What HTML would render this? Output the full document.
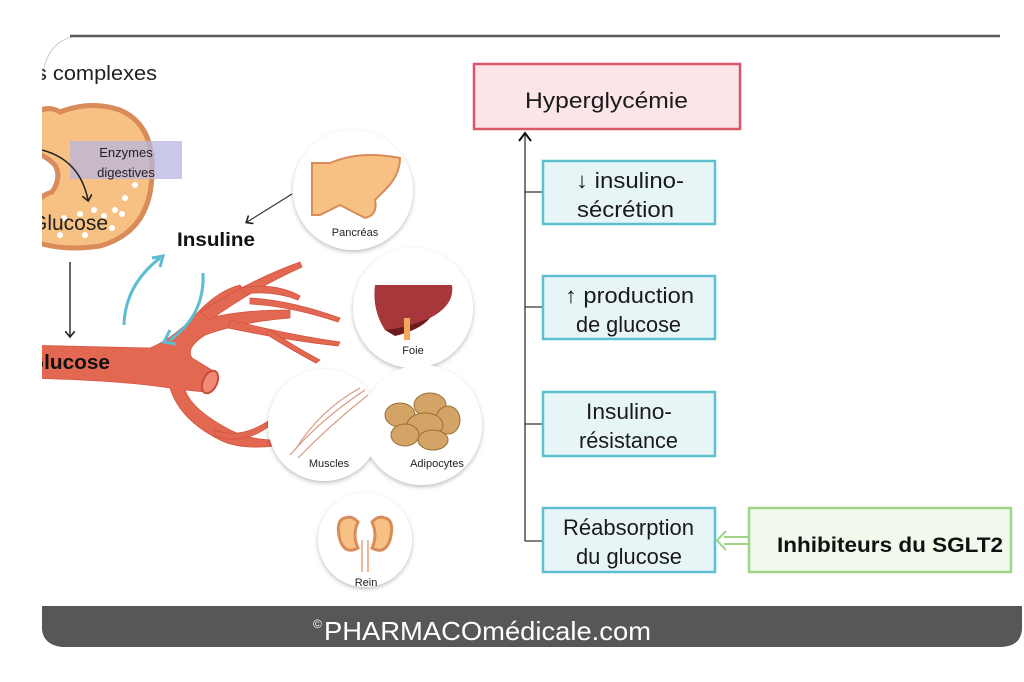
<!DOCTYPE html>
<html><head><meta charset="utf-8"><style>
html,body{margin:0;padding:0;background:#fff;}
svg{display:block;font-family:"Liberation Sans","DejaVu Sans",sans-serif;}
</style></head><body>
<svg width="1024" height="682" viewBox="0 0 1024 682" xmlns="http://www.w3.org/2000/svg">
<defs>
<clipPath id="c"><rect x="42" y="36" width="982" height="620"/></clipPath>
<filter id="sh" x="-20%" y="-20%" width="140%" height="140%"><feDropShadow dx="0" dy="2" stdDeviation="2" flood-color="#000" flood-opacity="0.25"/></filter>
<marker id="ah" markerWidth="10" markerHeight="10" refX="5" refY="5" orient="auto" markerUnits="userSpaceOnUse"><path d="M0,0 L6,5 L0,10" fill="none" stroke="#222" stroke-width="1.6"/></marker>
</defs>
<rect width="1024" height="682" fill="#fff"/>
<path d="M42,80 Q46,38 80,36" fill="none" stroke="#ccc" stroke-width="1"/>
<path d="M70,36 L1000,36" stroke="#5a5a5a" stroke-width="2.5"/>
<g clip-path="url(#c)">
<text x="36" y="80" font-size="20" fill="#222" textLength="121" lengthAdjust="spacingAndGlyphs">s complexes</text>
<path d="M20,130 Q40,100 60,112 Q90,100 120,110 Q155,125 152,175 Q150,232 100,246 Q60,252 30,240 Q25,200 52,192 Q62,178 55,165 Q40,150 20,150 Z" fill="#f6c183" stroke="#d98b5a" stroke-width="5"/>
<g fill="#fff">
<circle cx="104" cy="216" r="3"/><circle cx="115" cy="210" r="3"/><circle cx="125" cy="198" r="3"/><circle cx="135" cy="185" r="3"/><circle cx="94" cy="210" r="3"/><circle cx="80" cy="214" r="3"/><circle cx="64" cy="218" r="3"/><circle cx="60" cy="235" r="3"/><circle cx="85" cy="235" r="3"/><circle cx="112" cy="228" r="3"/><circle cx="122" cy="214" r="3"/>
</g>
<rect x="70" y="141" width="112" height="38" fill="#b8b6e0" opacity="0.75"/>
<text x="126" y="157" font-size="13" text-anchor="middle" fill="#222">Enzymes</text>
<text x="126" y="177" font-size="13" text-anchor="middle" fill="#222">digestives</text>
<path d="M42,150 Q80,160 88,200" fill="none" stroke="#222" stroke-width="1.5" marker-end="url(#ah)"/>
<text x="31" y="230" font-size="21" fill="#222" textLength="77" lengthAdjust="spacingAndGlyphs">Glucose</text>
<line x1="70" y1="262" x2="70" y2="336" stroke="#222" stroke-width="1.4" marker-end="url(#ah)"/>
<g fill="#e36852" stroke="#d4533f" stroke-width="0.8">
<path d="M20,345 L150,348 Q175,338 200,310 Q220,290 240,285 L245,292 Q225,300 210,318 Q240,310 290,310 L290,318 Q240,322 205,335 Q185,348 192,358 L215,372 L205,392 L185,390 Q192,410 230,430 Q250,440 275,440 L275,446 Q240,450 220,440 Q180,420 170,388 Q120,380 20,378 Z"/>
<path d="M200,312 Q250,280 300,262 L302,267 Q255,288 210,320Z"/>
<path d="M240,288 Q275,282 300,296 L298,300 Q272,290 245,294Z"/>
<path d="M230,320 Q290,335 340,342 L338,346 Q285,340 228,328Z"/>
<path d="M270,330 Q300,350 320,360 L316,363 Q295,352 266,334Z"/>
<path d="M250,298 Q290,300 340,318 L338,322 Q290,306 250,304Z"/>
<path d="M215,430 Q240,440 270,420 L272,424 Q245,446 215,436Z"/>
</g>
<ellipse cx="210" cy="382" rx="7" ry="12" fill="#f08a75" stroke="#c94a38" stroke-width="2" transform="rotate(25 210 382)"/>
<text x="28" y="369" font-size="20" font-weight="bold" fill="#111" textLength="82" lengthAdjust="spacingAndGlyphs">Glucose</text>
</g>
<text x="177" y="246" font-size="19" font-weight="bold" fill="#111" textLength="78" lengthAdjust="spacingAndGlyphs">Insuline</text>
<line x1="292" y1="194" x2="247" y2="222" stroke="#333" stroke-width="1.2" marker-end="url(#ah)"/>
<path d="M124,325 Q125,285 160,258" fill="none" stroke="#5bbdd0" stroke-width="3"/>
<path d="M152,258 L163,256 L160,267" fill="none" stroke="#5bbdd0" stroke-width="3"/>
<path d="M203,273 Q205,315 170,340" fill="none" stroke="#5bbdd0" stroke-width="3"/>
<path d="M170,330 L164,342 L176,344" fill="none" stroke="#5bbdd0" stroke-width="3"/>
<g fill="#fff" filter="url(#sh)">
<circle cx="353" cy="190" r="60"/>
<circle cx="413" cy="308" r="60"/>
<circle cx="324" cy="425" r="56"/>
<circle cx="422" cy="425" r="60"/>
<circle cx="365" cy="540" r="47"/>
</g>
<path d="M312,163 L330,163 Q360,150 400,158 Q400,175 385,190 L375,200 Q378,215 365,218 L340,205 Q330,210 320,215 L312,215 Z" fill="#f6c183" stroke="#d98b5a" stroke-width="2"/>
<text x="355" y="236" font-size="11" text-anchor="middle" fill="#222">Pancréas</text>
<path d="M375,285 L452,285 Q455,305 430,318 Q405,330 385,330 Q372,310 375,285 Z" fill="#a7373a"/>
<path d="M385,330 Q405,328 430,318 Q420,330 395,336 Z" fill="#6e1b1e"/>
<rect x="404" y="318" width="6" height="22" fill="#f2a85a"/>
<text x="413" y="354" font-size="11" text-anchor="middle" fill="#222">Foie</text>
<path d="M290,455 Q320,420 365,390 M298,458 Q330,425 368,395 M295,450 Q320,410 360,388" fill="none" stroke="#d99a85" stroke-width="1.2"/>
<text x="329" y="467" font-size="11" text-anchor="middle" fill="#222">Muscles</text>
<g fill="#d3a465" stroke="#9a6e3a" stroke-width="1">
<ellipse cx="400" cy="415" rx="15" ry="12"/><ellipse cx="430" cy="405" rx="16" ry="12"/><ellipse cx="448" cy="420" rx="12" ry="14"/><ellipse cx="425" cy="425" rx="18" ry="12"/><ellipse cx="405" cy="435" rx="14" ry="11"/><ellipse cx="433" cy="440" rx="15" ry="10"/>
</g>
<text x="437" y="467" font-size="11" text-anchor="middle" fill="#222">Adipocytes</text>
<path d="M345,518 Q335,520 340,540 Q345,555 358,548 Q352,535 358,522 Q352,515 345,518Z" fill="#f6c183" stroke="#d98b5a" stroke-width="3"/>
<path d="M385,518 Q395,520 390,540 Q385,555 372,548 Q378,535 372,522 Q378,515 385,518Z" fill="#f6c183" stroke="#d98b5a" stroke-width="3"/>
<path d="M362,540 L362,572 M368,540 L368,572" stroke="#e7a07a" stroke-width="1.5"/>
<text x="366" y="586" font-size="11" text-anchor="middle" fill="#222">Rein</text>
<rect x="474" y="64" width="266" height="65" fill="#fbe5e9" stroke="#d9566b" stroke-width="2.5"/>
<text x="525" y="108" font-size="22" fill="#1a1a1a" textLength="163" lengthAdjust="spacingAndGlyphs">Hyperglycémie</text>
<path d="M525,541 L525,133" stroke="#333" stroke-width="1.3"/>
<path d="M519,141 L525,133 L531,141" fill="none" stroke="#111" stroke-width="2"/>
<path d="M525,192 L542,192 M525,307 L542,307 M525,424 L542,424 M525,541 L542,541" stroke="#333" stroke-width="1.2"/>
<g fill="#e7f5f7" stroke="#5cc0cf" stroke-width="2.5">
<rect x="543" y="161" width="172" height="63"/>
<rect x="543" y="276" width="172" height="63"/>
<rect x="543" y="392" width="172" height="64"/>
<rect x="543" y="508" width="172" height="64"/>
</g>
<g font-size="22" fill="#1a1a1a" lengthAdjust="spacingAndGlyphs">
<text x="576" y="188" textLength="108" lengthAdjust="spacingAndGlyphs">↓ insulino-</text><text x="577" y="217" textLength="97" lengthAdjust="spacingAndGlyphs">sécrétion</text>
<text x="565" y="303" textLength="129" lengthAdjust="spacingAndGlyphs">↑ production</text><text x="576" y="332" textLength="105" lengthAdjust="spacingAndGlyphs">de glucose</text>
<text x="586" y="419" textLength="86" lengthAdjust="spacingAndGlyphs">Insulino-</text><text x="579" y="448" textLength="99" lengthAdjust="spacingAndGlyphs">résistance</text>
<text x="563" y="535" textLength="131" lengthAdjust="spacingAndGlyphs">Réabsorption</text><text x="576" y="564" textLength="106" lengthAdjust="spacingAndGlyphs">du glucose</text>
</g>
<rect x="749" y="508" width="262" height="64" fill="#f1f9ec" stroke="#9fd587" stroke-width="2.5"/>
<text x="777" y="552" font-size="21" font-weight="bold" fill="#111" textLength="226" lengthAdjust="spacingAndGlyphs">Inhibiteurs du SGLT2</text>
<path d="M748,537 L724,537 M748,544 L724,544" stroke="#9fd587" stroke-width="2"/>
<path d="M726,531 L717,540.5 L726,550" fill="none" stroke="#9fd587" stroke-width="2"/>
<path d="M42,606 L1022,606 L1022,630 Q1020,647 1000,647 L62,647 Q44,645 42,630 Z" fill="#575757"/>
<text x="313" y="628" font-size="12" fill="#fff">©</text>
<text x="324" y="640" font-size="26" fill="#fff" textLength="327" lengthAdjust="spacingAndGlyphs">PHARMACOmédicale.com</text>
</svg>
</body></html>
